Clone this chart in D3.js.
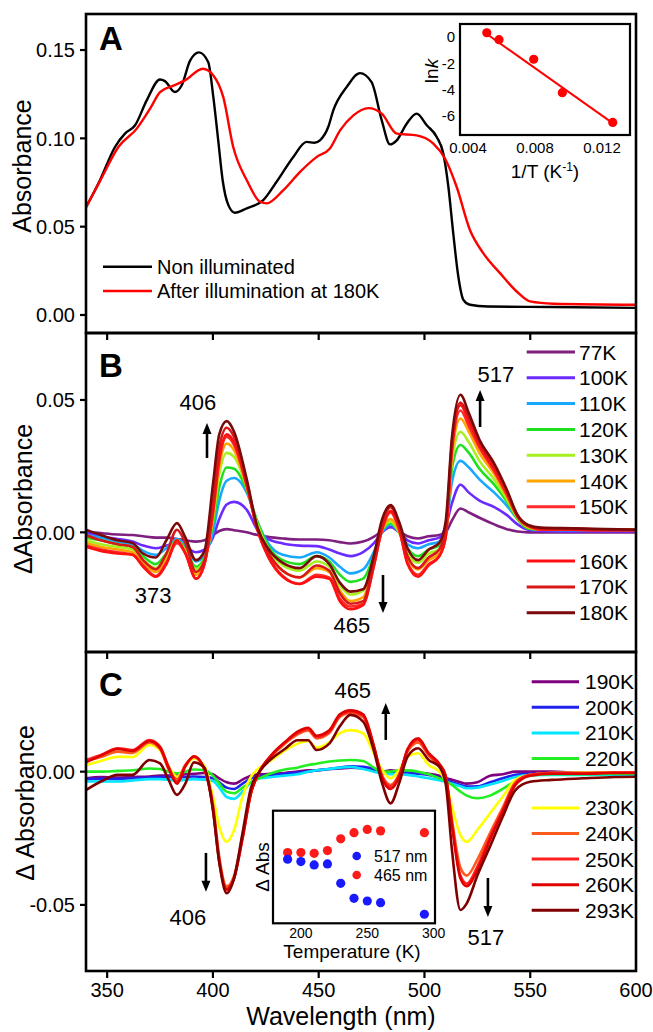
<!DOCTYPE html>
<html>
<head>
<meta charset="utf-8">
<script src="https://cdn.jsdelivr.net/npm/d3@7"></script>
<style>
body { margin: 0; background: #fff; }
text { font-family: "Liberation Sans", Arial, sans-serif; fill: #000; }
</style>
</head>
<body>
<div id="chart"></div>
<script>
/*globals d3 */
// ---- panel A : absorbance spectra ----
var specDark = [[340,0.061],[346.6,0.0763],[353.7,0.0951],[358.4,0.1027],[363.2,0.1074],[368.7,0.1215],[375,0.1333],[377.3,0.1324],[382,0.1262],[385.2,0.1299],[389.2,0.144],[393.4,0.1487],[397.8,0.1431],[400.2,0.1233],[402.5,0.0989],[404.6,0.0763],[407.3,0.0622],[410.4,0.0579],[416,0.0604],[423.8,0.065],[430.1,0.0754],[438,0.0895],[444.3,0.098],[448,0.0975],[450.6,0.0989],[454.5,0.1064],[456.9,0.1158],[463.2,0.129],[469.5,0.1369],[475,0.1318],[479.8,0.1102],[483.7,0.0966],[486.9,0.0989],[491.6,0.1083],[496.3,0.114],[501.1,0.1074],[505.8,0.1008],[508.9,0.0914],[511.3,0.0726],[513.6,0.0463],[516,0.0218],[518.4,0.0086],[521.5,0.0058],[530,0.0048],[560,0.0045],[600,0.004]];
var specLit = [[340,0.061],[346.6,0.0758],[355.3,0.0951],[364,0.1055],[370.3,0.1168],[375,0.1262],[381.3,0.1299],[386.8,0.1328],[395.2,0.1394],[400.2,0.1356],[404.9,0.1233],[409.6,0.0951],[416,0.0763],[422.3,0.0641],[425.4,0.0632],[433.3,0.0707],[441.2,0.081],[449.1,0.0895],[455.3,0.0942],[460.1,0.1045],[466.4,0.113],[473.5,0.1171],[479.8,0.114],[486.9,0.1027],[496.3,0.1017],[504.2,0.097],[509.7,0.0886],[515.2,0.0726],[521.5,0.0481],[527.8,0.035],[535.7,0.0237],[543.6,0.0133],[549.9,0.0077],[560.9,0.0064],[600,0.0058]];
var legendA = ["Non illuminated", "After illumination at 180K"];

// inset A : Arrhenius plot
var invT = [0.00512, 0.00585, 0.00792, 0.00963, 0.01264];
var lnk = [0.33, -0.2, -1.7, -4.26, -6.54];
var fitA = [[0.0051, 0.25], [0.0127, -6.65]];

// ---- panel B : difference spectra 77-180K ----
var tempsB = ["77K", "100K", "110K", "120K", "130K", "140K", "150K", "160K", "170K", "180K"];
var colorsB = ["#7f1f7f", "#6b2bff", "#19a8ff", "#1ee01e", "#a6f01e", "#ffa500", "#ff2a2a", "#ff1010", "#d81818", "#7a0a0a"];
var wlB = [340, 347, 355, 362, 367, 373, 378, 383, 387, 392,
           396, 400, 403, 406.5, 410, 416, 421, 426, 433, 441,
           449, 455, 460, 465, 471, 476, 480, 484, 488, 492,
           497, 502, 507, 510, 513, 517, 521, 526, 533, 539,
           544, 549, 555, 570, 585, 600];
var dAbsB = [
    [0.0002, -0.0003, -0.0008, -0.001, -0.0015, -0.002, -0.002, -0.0025, -0.003, -0.0035,
     -0.003, -0.001, 0.0005, 0.0012, 0.0008, 0.0, -0.001, -0.0017, -0.0023, -0.0027,
     -0.0027, -0.003, -0.0037, -0.0042, -0.0035, -0.0017, 0.0005, 0.002, 0.0005, -0.0015,
     -0.0023, -0.0015, -0.001, 0.0, 0.0045, 0.009, 0.0075, 0.0055, 0.003, 0.0012,
     0.0003, 0.0, 0.0, 0.0, 0.0, 0.0],
    [0.0, -0.0015, -0.0025, -0.0035, -0.005, -0.006, -0.005, -0.004, -0.0055, -0.0075,
     -0.0065, -0.002, 0.005, 0.0105, 0.0115, 0.0085, 0.001, -0.0025, -0.0042, -0.005,
     -0.0052, -0.0065, -0.008, -0.009, -0.0075, -0.0042, 0.0, 0.002, 0.0, -0.003,
     -0.0042, -0.003, -0.002, 0.002, 0.011, 0.018, 0.015, 0.012, 0.0095, 0.0065,
     0.003, 0.001, 0.0005, 0.0003, 0.0003, 0.0003],
    [-0.001, -0.002, -0.0035, -0.0045, -0.007, -0.0085, -0.006, -0.0025, -0.005, -0.011,
     -0.0085, 0.0, 0.012, 0.0195, 0.0205, 0.015, 0.004, -0.004, -0.0085, -0.0095,
     -0.0075, -0.0095, -0.013, -0.0155, -0.014, -0.0075, 0.0, 0.003, 0.0, -0.0045,
     -0.006, -0.0045, -0.0035, 0.001, 0.019, 0.027, 0.0245, 0.020, 0.015, 0.010,
     0.005, 0.0015, 0.001, 0.0008, 0.0008, 0.0008],
    [-0.002, -0.003, -0.0045, -0.0055, -0.009, -0.012, -0.008, -0.003, -0.0065, -0.013,
     -0.0095, 0.003, 0.017, 0.0245, 0.024, 0.016, 0.004, -0.005, -0.0105, -0.012,
     -0.009, -0.011, -0.016, -0.0187, -0.0175, -0.009, 0.001, 0.0035, 0.0, -0.006,
     -0.009, -0.0065, -0.005, 0.0, 0.024, 0.033, 0.030, 0.024, 0.018, 0.0115,
     0.005, 0.0015, 0.001, 0.001, 0.001, 0.001],
    [-0.003, -0.0045, -0.0055, -0.0065, -0.0105, -0.0135, -0.0095, -0.003, -0.007, -0.014,
     -0.0105, 0.005, 0.022, 0.030, 0.0285, 0.017, 0.003, -0.006, -0.0125, -0.0145,
     -0.011, -0.013, -0.020, -0.0235, -0.022, -0.011, 0.001, 0.004, 0.0, -0.008,
     -0.0115, -0.008, -0.0065, -0.001, 0.027, 0.038, 0.034, 0.027, 0.020, 0.0125,
     0.0055, 0.002, 0.001, 0.001, 0.001, 0.001],
    [-0.004, -0.0055, -0.0065, -0.0075, -0.0115, -0.015, -0.0105, -0.0035, -0.0075, -0.016,
     -0.011, 0.006, 0.025, 0.0335, 0.031, 0.017, 0.002, -0.0075, -0.0145, -0.017,
     -0.0135, -0.015, -0.022, -0.026, -0.0245, -0.012, 0.001, 0.005, 0.0005, -0.0095,
     -0.014, -0.0105, -0.008, -0.0015, 0.029, 0.043, 0.038, 0.030, 0.022, 0.0135,
     0.0055, 0.002, 0.001, 0.001, 0.001, 0.001],
    [-0.005, -0.0065, -0.0075, -0.0085, -0.0125, -0.0165, -0.0115, -0.004, -0.008, -0.0175,
     -0.012, 0.007, 0.027, 0.036, 0.033, 0.0175, 0.001, -0.009, -0.0165, -0.0195,
     -0.016, -0.017, -0.025, -0.028, -0.027, -0.013, 0.001, 0.0075, 0.001, -0.0115,
     -0.016, -0.012, -0.009, -0.002, 0.031, 0.046, 0.040, 0.032, 0.023, 0.014,
     0.006, 0.0025, 0.001, 0.001, 0.0008, 0.0008],
    [-0.0054, -0.007, -0.008, -0.0085, -0.013, -0.0168, -0.012, -0.003, -0.008, -0.0175,
     -0.012, 0.008, 0.028, 0.037, 0.034, 0.018, 0.001, -0.009, -0.0168, -0.0195,
     -0.0168, -0.0175, -0.026, -0.029, -0.0275, -0.013, 0.0015, 0.008, 0.0015, -0.012,
     -0.0168, -0.0125, -0.009, -0.002, 0.032, 0.048, 0.042, 0.033, 0.024, 0.015,
     0.0065, 0.0025, 0.0012, 0.001, 0.0008, 0.0008],
    [-0.001, -0.003, -0.0045, -0.0055, -0.0105, -0.014, -0.008, 0.001, -0.004, -0.015,
     -0.0105, 0.011, 0.032, 0.0395, 0.036, 0.019, 0.0015, -0.0075, -0.0145, -0.017,
     -0.0125, -0.0145, -0.023, -0.027, -0.026, -0.0115, 0.003, 0.0095, 0.003, -0.009,
     -0.0135, -0.0095, -0.0065, 0.001, 0.034, 0.049, 0.0435, 0.034, 0.025, 0.0155,
     0.006, 0.0025, 0.0015, 0.0015, 0.001, 0.001],
    [0.001, -0.001, -0.003, -0.004, -0.008, -0.0095, -0.003, 0.0035, -0.002, -0.0105,
     -0.007, 0.018, 0.037, 0.042, 0.038, 0.020, 0.002, -0.006, -0.0115, -0.0135,
     -0.009, -0.012, -0.019, -0.0224, -0.0215, -0.009, 0.005, 0.0103, 0.004, -0.006,
     -0.0105, -0.0065, -0.004, 0.004, 0.036, 0.052, 0.045, 0.035, 0.026, 0.016,
     0.0065, 0.0028, 0.0018, 0.0015, 0.0012, 0.001]
];

// ---- panel C : difference spectra 190-293K ----
var tempsC = ["190K", "200K", "210K", "220K", "230K", "240K", "250K", "260K", "293K"];
var colorsC = ["#7f007f", "#2222ee", "#00e5ff", "#22ee22", "#ffff00", "#ff5a1e", "#ff2020", "#e00000", "#800000"];
var wlC = [340, 347, 355, 362, 370, 375, 379, 383, 387, 391,
           396, 400, 403, 406.5, 410, 414, 418, 422, 428, 434,
           440, 445, 449, 455, 460, 465, 471, 476, 480, 484,
           488, 492, 497, 502, 507, 510, 513, 517, 520, 525,
           531, 537, 543, 550, 560, 575, 590, 600];
var dAbsC = [
    [-0.0025, -0.002, -0.0022, -0.002, -0.0018, -0.0015, -0.0015, -0.0015, -0.001, -0.0008,
     -0.0005, -0.001, -0.0025, -0.004, -0.0045, -0.003, -0.0015, -0.001, -0.0008, -0.0005,
     0.0, 0.0005, 0.0005, 0.001, 0.0012, 0.0015, 0.0012, 0.0005, 0.0, 0.0005,
     0.0, -0.0003, -0.0005, -0.0008, -0.0015, -0.0025, -0.003, -0.004, -0.0045, -0.004,
     -0.0015, -0.001, 0.0, 0.0, 0.0, -0.0005, -0.0005, -0.0003],
    [-0.0028, -0.0027, -0.0027, -0.0025, -0.0022, -0.002, -0.002, -0.0022, -0.002, -0.0018,
     -0.002, -0.0025, -0.004, -0.006, -0.0065, -0.0045, -0.0025, -0.0018, -0.0012, -0.0008,
     -0.0003, 0.0, 0.0005, 0.001, 0.0015, 0.002, 0.0018, 0.001, 0.0, -0.0003,
     -0.0003, -0.0005, -0.0008, -0.0012, -0.0022, -0.003, -0.004, -0.005, -0.0056, -0.0055,
     -0.004, -0.0025, -0.0012, -0.0008, -0.0006, -0.0006, -0.0006, -0.0005],
    [-0.0037, -0.0037, -0.0037, -0.0033, -0.0028, -0.0028, -0.003, -0.0035, -0.003, -0.0028,
     -0.003, -0.0035, -0.006, -0.0095, -0.0102, -0.0075, -0.004, -0.0025, -0.002, -0.0015,
     -0.001, 0.0, 0.0005, 0.001, 0.0015, 0.0018, 0.001, 0.0, -0.0006, -0.001,
     -0.001, -0.0012, -0.0018, -0.0025, -0.0032, -0.0038, -0.0045, -0.0055, -0.0062, -0.006,
     -0.0048, -0.0035, -0.002, -0.0013, -0.0012, -0.0012, -0.0012, -0.0012],
    [0.0, 0.0, 0.0003, 0.0005, 0.0012, 0.001, 0.0, -0.0006, 0.0, 0.0008,
     0.0005, -0.0015, -0.0045, -0.0075, -0.0081, -0.006, -0.004, -0.0025, -0.0005, 0.0008,
     0.0015, 0.0025, 0.003, 0.0038, 0.0042, 0.0044, 0.004, 0.0015, 0.0, 0.0,
     0.0005, 0.0005, 0.0, -0.001, -0.0025, -0.0035, -0.005, -0.0075, -0.009, -0.01,
     -0.009, -0.0065, -0.0035, -0.0015, -0.001, -0.001, -0.0008, -0.0008],
    [0.0025, 0.004, 0.0056, 0.0055, 0.01, 0.008, 0.002, -0.0019, 0.002, 0.005,
     0.002, -0.0094, -0.0206, -0.0263, -0.0219, -0.0094, -0.0019, 0.0015, 0.0045, 0.008,
     0.0105, 0.0115, 0.009, 0.011, 0.0145, 0.0156, 0.0144, 0.0069, 0.0006, -0.0025,
     0.0006, 0.0056, 0.0069, 0.0025, 0.0, -0.0037, -0.0131, -0.0238, -0.0263, -0.0219,
     -0.0156, -0.0094, -0.003, -0.0012, -0.0005, -0.0003, -0.0003, -0.0003],
    [0.004, 0.0055, 0.0075, 0.007, 0.011, 0.0085, 0.001, -0.003, 0.0025, 0.0055,
     0.001, -0.012, -0.032, -0.043, -0.039, -0.024, -0.008, 0.0, 0.006, 0.0105,
     0.014, 0.0155, 0.0125, 0.0145, 0.0205, 0.022, 0.0205, 0.0095, -0.0015, -0.005,
     -0.001, 0.0075, 0.011, 0.006, 0.002, -0.002, -0.018, -0.036, -0.039, -0.033,
     -0.023, -0.0135, -0.004, -0.0012, -0.0005, -0.0005, -0.0003, -0.0003],
    [0.0044, 0.0063, 0.0088, 0.0081, 0.0119, 0.0094, 0.002, -0.0037, 0.0025, 0.0056,
     0.0006, -0.0131, -0.033, -0.0445, -0.040, -0.025, -0.008, 0.0, 0.0065, 0.011,
     0.0145, 0.016, 0.013, 0.015, 0.021, 0.0225, 0.021, 0.0095, -0.002, -0.0056,
     -0.0015, 0.008, 0.0119, 0.0065, 0.0025, -0.0015, -0.0194, -0.039, -0.042, -0.0356,
     -0.0244, -0.0144, -0.0044, -0.0012, -0.0005, -0.0005, -0.0003, -0.0003],
    [0.0035, 0.006, 0.0085, 0.0078, 0.0115, 0.009, 0.0015, -0.0045, 0.002, 0.0058,
     0.001, -0.014, -0.034, -0.044, -0.040, -0.025, -0.008, 0.0, 0.0065, 0.011,
     0.015, 0.0165, 0.0135, 0.0155, 0.0215, 0.023, 0.0215, 0.01, -0.0025, -0.0065,
     -0.002, 0.0085, 0.0125, 0.007, 0.003, -0.0015, -0.02, -0.040, -0.043, -0.037,
     -0.0255, -0.015, -0.005, -0.0015, -0.0008, -0.0008, -0.0005, -0.0005],
    [-0.0069, -0.0037, -0.0012, -0.0012, 0.0044, 0.0031, -0.003, -0.0087, -0.0044, 0.0035,
     0.0015, -0.0144, -0.034, -0.0456, -0.040, -0.023, -0.006, 0.0, 0.005, 0.0085,
     0.0118, 0.0118, 0.0081, 0.0105, 0.017, 0.0213, 0.0188, 0.0081, -0.0044, -0.0119,
     -0.0044, 0.0056, 0.0088, 0.0044, 0.0019, -0.0044, -0.0294, -0.0519, -0.0494, -0.039,
     -0.0281, -0.0169, -0.0069, -0.0038, -0.0031, -0.0025, -0.002, -0.0019]
];

// inset C : band amplitude versus temperature
var tempInset = [190, 200, 210, 220, 230, 240, 250, 260, 293];
var abs465 = [0.0003, 0.0003, -0.0003, 0.002, 0.012, 0.0173, 0.020, 0.0188, 0.0173];
var abs517 = [-0.0054, -0.0074, -0.0102, -0.0094, -0.0259, -0.0387, -0.041, -0.0424, -0.0523];

// annotations [label, wavelength, value] and arrows [wavelength, from, to]
var notesB = [["406", 392.9, 0.0462], ["373", 371.7, -0.0267], ["465", 465.7, -0.0381], ["517", 533.8, 0.0568]];
var arrowsB = [[397.2, 0.0281, 0.0413], [480.4, -0.0161, -0.0305], [526.3, 0.0398, 0.0538]];
var notesC = [["406", 388.2, -0.0575], ["465", 466.1, 0.0276], ["517", 529, -0.065]];
var arrowsC = [[396.7, -0.0305, -0.0451], [481.7, 0.0119, 0.0258], [530, -0.0399, -0.0545]];

(function () {
    'use strict';
    var svg, x, line, panels, fmt2 = d3.format(".2f");

    // plain hyphen for negative tick labels, like the original figure
    function fmtTick(d) {
        return fmt2(d).replace("\u2212", "-");
    }

    svg = d3.select("#chart").append("svg")
        .attr("width", 653)
        .attr("height", 1032);
    svg.append("rect").attr("width", 653).attr("height", 1032).attr("fill", "#fff");

    x = d3.scaleLinear().domain([340, 600]).range([86, 636]);

    panels = [
        {id: "A", top: 14, bottom: 333, domain: [-0.0102, 0.1704], ticks: [0, 0.05, 0.10, 0.15],
            label: "Absorbance", lx: 22, ly: 166},
        {id: "B", top: 333, bottom: 652, domain: [-0.0452, 0.0753], ticks: [0, 0.05],
            label: "\u0394Absorbance", lx: 23, ly: 499},
        {id: "C", top: 652, bottom: 971, domain: [-0.0748, 0.0449], ticks: [-0.05, 0],
            label: "\u0394 Absorbance", lx: 25, ly: 803}
    ];
    panels.forEach(function (p) {
        p.y = d3.scaleLinear().domain(p.domain).range([p.bottom, p.top]);
        svg.append("clipPath").attr("id", "clip" + p.id)
            .append("rect").attr("x", 86).attr("y", p.top)
            .attr("width", 550).attr("height", p.bottom - p.top);
    });

    function pathFor(p) {
        return d3.line()
            .x(function (d) { return x(d[0]); })
            .y(function (d) { return p.y(d[1]); })
            .curve(d3.curveMonotoneX);
    }

    function zip(wl, vals) {
        return wl.map(function (w, i) { return [w, vals[i]]; });
    }

    // ---- curves ----
    line = pathFor(panels[0]);
    var gA = svg.append("g").attr("clip-path", "url(#clipA)");
    gA.append("path").attr("d", line(specDark)).attr("fill", "none")
        .attr("stroke", "#000").attr("stroke-width", 2.4);
    gA.append("path").attr("d", line(specLit)).attr("fill", "none")
        .attr("stroke", "#ff0000").attr("stroke-width", 2.4);

    line = pathFor(panels[1]);
    svg.append("g").attr("clip-path", "url(#clipB)")
        .selectAll("path").data(dAbsB).enter().append("path")
        .attr("d", function (d) { return line(zip(wlB, d)); })
        .attr("fill", "none")
        .attr("stroke", function (d, i) { return colorsB[i]; })
        .attr("stroke-width", 2.6);

    line = pathFor(panels[2]);
    svg.append("g").attr("clip-path", "url(#clipC)")
        .selectAll("path").data(dAbsC).enter().append("path")
        .attr("d", function (d) { return line(zip(wlC, d)); })
        .attr("fill", "none")
        .attr("stroke", function (d, i) { return colorsC[i]; })
        .attr("stroke-width", 2.6);

    // ---- frames, axes, labels ----
    panels.forEach(function (p) {
        var g = svg.append("g");
        g.selectAll(".yt").data(p.ticks).enter().append("line")
            .attr("x1", 80).attr("x2", 86)
            .attr("y1", function (d) { return p.y(d); })
            .attr("y2", function (d) { return p.y(d); })
            .attr("stroke", "#000").attr("stroke-width", 2.2);
        g.selectAll(".yl").data(p.ticks).enter().append("text")
            .attr("x", 75).attr("y", function (d) { return p.y(d); })
            .attr("dy", "0.36em").attr("text-anchor", "end")
            .style("font-size", "20px")
            .text(fmtTick);
        g.selectAll(".xt").data([350, 400, 450, 500, 550]).enter().append("line")
            .attr("x1", function (d) { return x(d); })
            .attr("x2", function (d) { return x(d); })
            .attr("y1", p.bottom).attr("y2", p.bottom + 7)
            .attr("stroke", "#000").attr("stroke-width", 2.2);
        g.append("rect").attr("x", 86).attr("y", p.top)
            .attr("width", 550).attr("height", p.bottom - p.top)
            .attr("fill", "none").attr("stroke", "#000").attr("stroke-width", 2.6);
        g.append("text")
            .attr("transform", "translate(" + p.lx + "," + p.ly + ") rotate(-90)")
            .attr("text-anchor", "middle").attr("dy", "0.36em")
            .style("font-size", "25px")
            .text(p.label);
        g.append("text").attr("x", 99).attr("y", p.top + (p.id === "A" ? 36 : 44))
            .style("font-size", "33px").style("font-weight", "bold")
            .text(p.id);
    });

    svg.selectAll(".xl").data([350, 400, 450, 500, 550, 600]).enter().append("text")
        .attr("x", function (d) { return x(d); }).attr("y", 997)
        .attr("text-anchor", "middle").style("font-size", "20px")
        .text(function (d) { return d; });
    svg.append("text").attr("x", 341).attr("y", 1025)
        .attr("text-anchor", "middle").style("font-size", "25px")
        .text("Wavelength (nm)");

    // ---- legend A ----
    legendA.forEach(function (t, i) {
        var yy = 266.7 + i * 24.3;
        svg.append("line").attr("x1", 103).attr("x2", 152).attr("y1", yy).attr("y2", yy)
            .attr("stroke", i ? "#ff0000" : "#000").attr("stroke-width", 2.6);
        svg.append("text").attr("x", 157).attr("y", yy + 7)
            .style("font-size", "20px").text(t);
    });

    // ---- legends B and C ----
    function legend(names, colors, x1, x2, tx, y0, step, gapAfter, gap) {
        names.forEach(function (t, i) {
            var yy = y0 + i * step + (i > gapAfter ? gap : 0);
            svg.append("line").attr("x1", x1).attr("x2", x2).attr("y1", yy).attr("y2", yy)
                .attr("stroke", colors[i]).attr("stroke-width", 3);
            svg.append("text").attr("x", tx).attr("y", yy + 7.5)
                .style("font-size", "21px").text(t);
        });
    }
    legend(tempsB, colorsB, 526.7, 575, 579, 352, 25.8, 6, 28.5);
    legend(tempsC, colorsC, 531.7, 579, 585, 681.7, 25.6, 3, 23.8);

    // ---- annotations ----
    function annotate(p, notes, arrows) {
        notes.forEach(function (n) {
            svg.append("text").attr("x", x(n[1])).attr("y", p.y(n[2]))
                .attr("text-anchor", "middle").style("font-size", "22px").text(n[0]);
        });
        arrows.forEach(function (a) {
            var ax = x(a[0]), y1 = p.y(a[1]), y2 = p.y(a[2]),
                dir = y2 < y1 ? 1 : -1;
            svg.append("line").attr("x1", ax).attr("x2", ax)
                .attr("y1", y1).attr("y2", y2 + dir * 9)
                .attr("stroke", "#000").attr("stroke-width", 2.6);
            svg.append("path")
                .attr("d", "M" + (ax - 4.5) + "," + (y2 + dir * 11) + "L" + ax + "," + y2 +
                    "L" + (ax + 4.5) + "," + (y2 + dir * 11) + "Z")
                .attr("fill", "#000");
        });
    }
    annotate(panels[1], notesB, arrowsB);
    annotate(panels[2], notesC, arrowsC);

    // ---- inset A ----
    var ix = d3.scaleLinear().domain([0.00352, 0.01367]).range([460, 630]),
        iy = d3.scaleLinear().domain([-7.5, 1]).range([135, 24]);
    var gi = svg.append("g");
    gi.append("rect").attr("x", 460).attr("y", 24).attr("width", 170).attr("height", 111)
        .attr("fill", "#fff");
    gi.append("path")
        .attr("d", d3.line().x(function (d) { return ix(d[0]); })
            .y(function (d) { return iy(d[1]); })(fitA))
        .attr("stroke", "#ff0000").attr("stroke-width", 2).attr("fill", "none");
    gi.selectAll("circle").data(invT).enter().append("circle")
        .attr("cx", function (d) { return ix(d); })
        .attr("cy", function (d, i) { return iy(lnk[i]); })
        .attr("r", 4.6).attr("fill", "#ff0000");
    gi.append("rect").attr("x", 460).attr("y", 24).attr("width", 170).attr("height", 111)
        .attr("fill", "none").attr("stroke", "#000").attr("stroke-width", 2.2);
    gi.selectAll(".ixl").data([0.004, 0.008, 0.012]).enter().append("text")
        .attr("x", function (d) { return ix(d); }).attr("y", 153)
        .attr("text-anchor", "middle").style("font-size", "15px")
        .text(d3.format(".3f"));
    gi.selectAll(".iyl").data([0, -2, -4, -6]).enter().append("text")
        .attr("x", 455).attr("y", function (d) { return iy(d); })
        .attr("dy", "0.36em").attr("text-anchor", "end").style("font-size", "15px")
        .text(function (d) { return d; });
    var tl = gi.append("text")
        .attr("transform", "translate(431,71) rotate(-90)")
        .attr("text-anchor", "middle").attr("dy", "0.36em").style("font-size", "19px");
    tl.append("tspan").text("ln");
    tl.append("tspan").style("font-style", "italic").text("k");
    var tx = gi.append("text").attr("x", 545).attr("y", 178)
        .attr("text-anchor", "middle").style("font-size", "19px");
    tx.append("tspan").text("1/T (K");
    tx.append("tspan").attr("dy", -7).style("font-size", "12px").text("-1");
    tx.append("tspan").attr("dy", 7).text(")");

    // ---- inset C ----
    var cx = d3.scaleLinear().domain([179, 301]).range([273, 435]),
        cy = d3.scaleLinear().domain([-0.06, 0.036]).range([923.3, 810.7]);
    var gc = svg.append("g");
    gc.append("rect").attr("x", 273).attr("y", 810.7).attr("width", 162).attr("height", 112.6)
        .attr("fill", "#fff");
    gc.selectAll(".r").data(abs465).enter().append("circle")
        .attr("cx", function (d, i) { return cx(tempInset[i]); })
        .attr("cy", function (d) { return cy(d); })
        .attr("r", 4.6).attr("fill", "#ff1a1a");
    gc.selectAll(".b").data(abs517).enter().append("circle")
        .attr("cx", function (d, i) { return cx(tempInset[i]); })
        .attr("cy", function (d) { return cy(d); })
        .attr("r", 4.6).attr("fill", "#1a1aff");
    gc.append("rect").attr("x", 273).attr("y", 810.7).attr("width", 162).attr("height", 112.6)
        .attr("fill", "none").attr("stroke", "#000").attr("stroke-width", 2.2);
    [["517 nm", "#1a1aff", 856], ["465 nm", "#ff1a1a", 875]].forEach(function (l) {
        gc.append("circle").attr("cx", 356.7).attr("cy", l[2]).attr("r", 4.3).attr("fill", l[1]);
        gc.append("text").attr("x", 374).attr("y", l[2] + 5.5)
            .style("font-size", "16px").text(l[0]);
    });
    gc.selectAll(".cxl").data([200, 250, 300]).enter().append("text")
        .attr("x", function (d) { return cx(d); }).attr("y", 938)
        .attr("text-anchor", "middle").style("font-size", "14px")
        .text(function (d) { return d; });
    gc.append("text").attr("x", 352).attr("y", 958)
        .attr("text-anchor", "middle").style("font-size", "19px")
        .text("Temperature (K)");
    gc.append("text")
        .attr("transform", "translate(262,867) rotate(-90)")
        .attr("text-anchor", "middle").attr("dy", "0.36em").style("font-size", "19px")
        .text("\u0394 Abs");
}());
</script>
</body>
</html>
